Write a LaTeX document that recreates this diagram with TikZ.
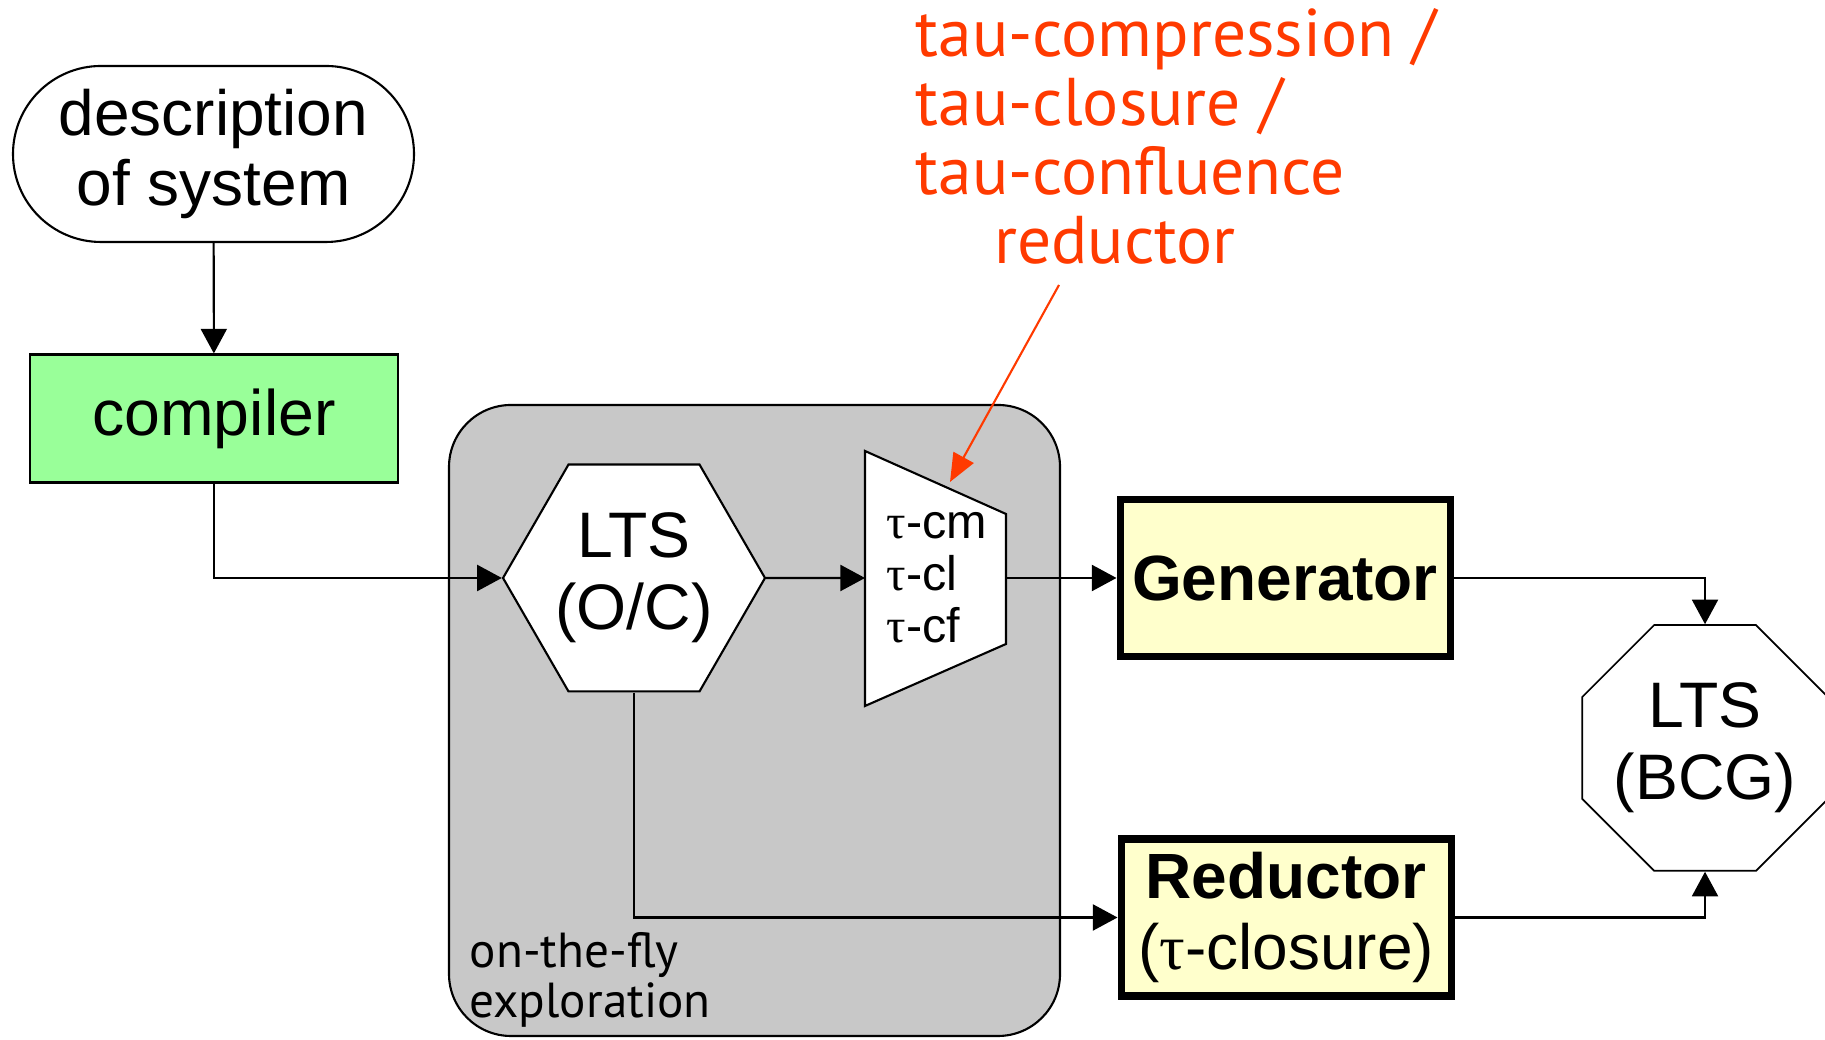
\documentclass[tikz,border=0pt]{standalone}
\usepackage{fontspec}
\setmainfont{Liberation Sans}
\newfontfamily\notefont{PT Sans}
\newfontfamily\greekfont{Liberation Serif}
\newcommand{\tausym}{{\greekfont τ}}
\usetikzlibrary{arrows.meta,shapes.geometric}
\definecolor{compgreen}{HTML}{99FF99}
\definecolor{toolyellow}{HTML}{FFFFCC}
\definecolor{flygray}{HTML}{C8C8C8}
\definecolor{notered}{HTML}{FF3A00}

\begin{document}
\begin{tikzpicture}[
    flow/.style={line width=0.6pt, -{Triangle[length=7pt,width=7.4pt]}},
    tool/.style={draw, line width=2pt, fill=toolyellow, minimum width=3.3cm, minimum height=1.57cm, align=center},
    lts/.style={draw, line width=0.6pt, fill=white, regular polygon, align=center, inner sep=0pt, font=\fontsize{18.3}{20.5}\selectfont}
  ]
    \useasboundingbox (0,0) rectangle (18.25,10.40);
    % the on-the-fly part
    \node[draw, line width=0.6pt, fill=flygray, rounded corners=0.62cm, minimum width=6.11cm, minimum height=6.31cm] (fly) at (7.545,3.195) {};
    \node[anchor=south west, inner sep=0pt, align=left, font=\notefont\fontsize{14}{14.2}\selectfont] (flylabel) at (4.69,0.12) {on-the-fly\\exploration};

    \node[draw, line width=0.6pt, rounded corners=0.88cm, minimum width=4.01cm, minimum height=1.76cm, align=center, font=\fontsize{18.2}{19.9}\selectfont] (desc) at (2.135,8.86) {description\\of system};
    \node[draw, line width=0.6pt, fill=compgreen, minimum width=3.68cm, minimum height=1.28cm, font=\fontsize{18.3}{20}\selectfont] (comp) at (2.14,6.215) {compiler};

    \node[lts, regular polygon sides=6, minimum size=2.62cm] (oc) at (6.34,4.62) {LTS\\(O/C)};
    \draw[fill=white, line width=0.6pt] (8.65,5.89) -- (10.06,5.26) -- (10.06,3.96) -- (8.65,3.34) -- cycle;
    \coordinate (trapin) at (8.65,4.62);
    \coordinate (trapout) at (10.06,4.62);
    \node[anchor=west, inner sep=0pt, align=left, font=\fontsize{13.8}{14.8}\selectfont] (taulist) at (8.86,4.62) {\tausym-cm\\\tausym-cl\\\tausym-cf};

    \node[tool, font=\fontsize{18.2}{20}\selectfont\bfseries] (gen) at (12.85,4.62) {Generator};
    \node[tool, font=\fontsize{18.2}{20}\selectfont] (red) at (12.86,1.225) {\textbf{Reductor}\\(\tausym-closure)};
    \node[lts, regular polygon sides=8, line width=0.5pt, minimum size=2.66cm,
      label={[align=center, font=\fontsize{18.3}{20.5}\selectfont]center:LTS\\(BCG)}] (bcg) at (17.05,2.92) {};

    \draw[flow] (desc) -- (comp);
    \draw[flow] (comp.south) |- (oc.west);
    \draw[flow] (oc.east) -- (trapin);
    \draw[flow] (trapout) -- (gen.west);
    \draw[flow] (gen.east) -| (bcg.north);
    \draw[flow] (oc.south) |- (red.west);
    \draw[flow] (red.east) -| (bcg.south);

    % note on the reductor
    \node[anchor=north west, inner sep=0pt, align=left, text=notered, font=\notefont\fontsize{19.2}{19.6}\selectfont] (note) at (9.15,10.32) {tau-compression /\\tau-closure /\\tau-confluence\\\hspace{0.785cm}reductor};
    \coordinate (notefrom) at (10.59,7.55);
    \coordinate (noteto) at (9.50,5.58);
    \draw[notered, line width=0.6pt, -{Triangle[length=8pt,width=6.5pt]}] (notefrom) -- (noteto);
  \end{tikzpicture}
\end{document}
